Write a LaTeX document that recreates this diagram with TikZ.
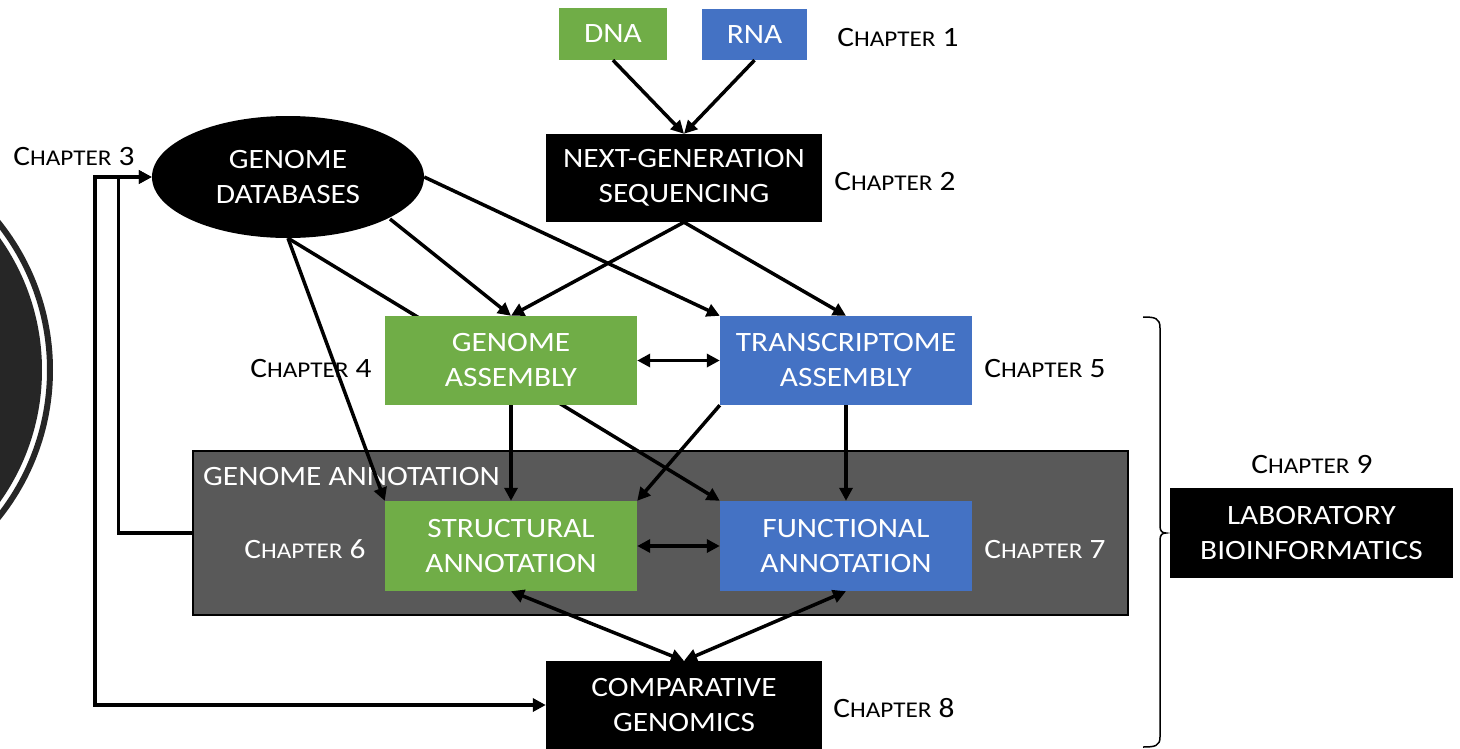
\documentclass[tikz,border=0pt]{standalone}
\usepackage{fontspec}
\setmainfont{Carlito}[FakeStretch=1.12]
\usetikzlibrary{arrows.meta,shapes.geometric}
\definecolor{xgreen}{HTML}{70AD47}
\definecolor{xblue}{HTML}{4472C4}
\definecolor{xgray}{HTML}{595959}
\definecolor{xdark}{HTML}{262626}
\newcommand\boxfont{\fontsize{28}{35}\selectfont}
\newcommand\chaplbl[1]{{\fontsize{28}{34}\selectfont C{\fontsize{22.5}{34}\selectfont HAPTER} #1}}
\begin{document}
\begin{tikzpicture}[x=1pt,y=-1pt,
  box/.style={minimum width=252pt, minimum height=89pt, inner sep=0pt, align=center, text=white, font=\boxfont},
  gbox/.style={box, fill=xgreen},
  bbox/.style={box, fill=xblue},
  kbox/.style={box, fill=black},
  lbl/.style={anchor=base, inner sep=0pt},
  arr/.style={line width=3.5pt, -{Triangle[length=13pt,width=13pt]}},
  darr/.style={line width=3.5pt, {Triangle[length=13pt,width=13pt]}-{Triangle[length=13pt,width=13pt]}},
  plain/.style={line width=3.5pt}]
\useasboundingbox (0,0) rectangle (1460,748);
\clip (0,0) rectangle (1460,748);
% left decorative circle
\fill[xdark] (-186,370) circle[radius=228pt];
\draw[xdark, line width=6pt] (-186,370) circle[radius=236pt];
% genome annotation panel
\node[draw=black, line width=1.5pt, fill=xgray, minimum width=935pt, minimum height=164pt, inner sep=0pt] (gann) at (660.5,533) {};
\node[anchor=base west, inner sep=0pt, text=white, font=\boxfont] (gannlbl) at (203,485) {GENOME ANNOTATION};
% nodes
\node[gbox, minimum width=108pt, minimum height=52pt] (dna) at (613,34) {DNA};
\node[bbox, minimum width=105pt, minimum height=51pt] (rna) at (754.5,34.5) {RNA};
\node[kbox, minimum width=276pt, minimum height=88pt] (ngs) at (684,178) {NEXT-GENERATION\\SEQUENCING};
\node[ellipse, fill=black, minimum width=272pt, minimum height=122pt, inner sep=0pt, text=white, align=center, font=\boxfont] (gdb) at (288,177) {GENOME\\DATABASES};
\node[bbox] (ta) at (846,360.5) {TRANSCRIPTOME\\ASSEMBLY};
\node[gbox, minimum height=90pt] (sa) at (511,546) {STRUCTURAL\\ANNOTATION};
\node[bbox, minimum height=90pt] (fa) at (846,546) {FUNCTIONAL\\ANNOTATION};
\node[kbox, minimum width=276pt, minimum height=88pt] (cg) at (684,705) {COMPARATIVE\\GENOMICS};
\node[kbox, minimum width=283pt, minimum height=90pt] (lb) at (1311.5,533) {LABORATORY\\BIOINFORMATICS};
\coordinate (gdbse) at (390,219);
% hidden line behind genome assembly
\draw[arr] (gdb.south) -- (fa.north west);
\node[gbox] (ga) at (511,360.5) {GENOME\\ASSEMBLY};
% chapter labels
\node[lbl] (c1) at (898,46) {\chaplbl{1}};
\node[lbl] (c2) at (895,190) {\chaplbl{2}};
\node[lbl] (c3) at (74,165) {\chaplbl{3}};
\node[lbl] (c4) at (311,377) {\chaplbl{4}};
\node[lbl] (c5) at (1045,377) {\chaplbl{5}};
\node[lbl, text=white] (c6) at (305,558) {\chaplbl{6}};
\node[lbl, text=white] (c7) at (1045,558) {\chaplbl{7}};
\node[lbl] (c8) at (894,717) {\chaplbl{8}};
\node[lbl] (c9) at (1312,473) {\chaplbl{9}};
% connectors
\draw[arr] (dna.south) -- (ngs.north);
\draw[arr] (rna.south) -- (ngs.north);
\draw[arr] (ngs.south) -- (ga.north);
\draw[arr] (ngs.south) -- (ta.north);
\draw[arr] (gdbse) -- (ga.north);
\draw[arr] (gdb.east) -- (ta.north west);
\draw[arr] (gdb.south) -- (sa.north west);
\draw[arr] (ga.south) -- (sa.north);
\draw[arr] (ta.south west) -- (sa.north east);
\draw[arr] (ta.south) -- (fa.north);
\draw[darr] (ga.east) -- (ta.west);
\draw[darr] (sa.east) -- (fa.west);
\draw[darr] (sa.south) -- (cg.north);
\draw[darr] (fa.south) -- (cg.north);
\draw[arr] (gann.west) -- ++(-74,0) |- (gdb.west);
\draw[darr] (gdb.west) -- ++(-57,0) |- (cg.west);
% brace
\draw[line width=1.5pt] (1143,317) .. controls (1155,317) and (1160,318) .. (1160,328) -- (1160,526) .. controls (1160,531) and (1162,533) .. (1166,533) .. controls (1162,533) and (1160,535) .. (1160,540) -- (1160,737) .. controls (1160,746) and (1155,747) .. (1143,747);
\end{tikzpicture}
\end{document}
